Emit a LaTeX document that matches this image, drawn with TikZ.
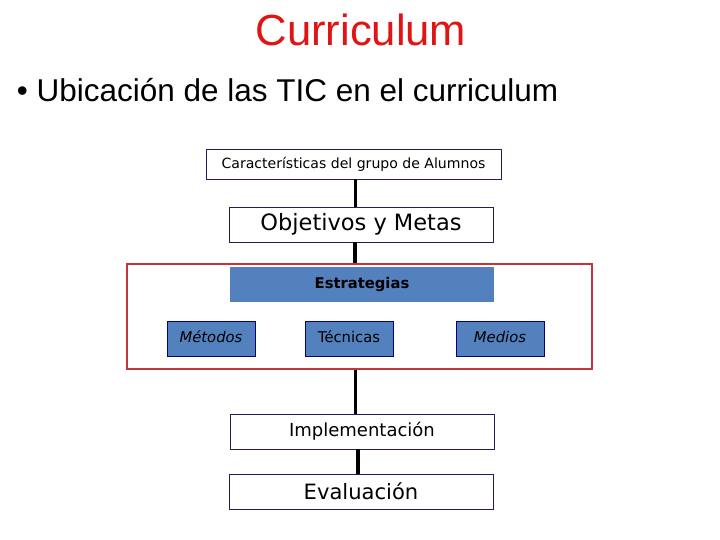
\documentclass[tikz,border=0pt]{standalone}
\usepackage{fontspec}
\setmainfont{Liberation Sans}
\newfontfamily\boxfont{DejaVu Sans}
\usetikzlibrary{positioning}
\definecolor{navyline}{RGB}{30,30,90}
\definecolor{stratblue}{RGB}{82,129,190}
\definecolor{framered}{RGB}{200,50,60}
\definecolor{titlered}{RGB}{225,20,20}
\begin{document}
\begin{tikzpicture}[
        base/.style={draw=navyline,line width=0.6pt,inner sep=0pt,font=\boxfont},
        plainbox/.style={base,minimum width=6.6cm,minimum height=0.875cm},
        stratbox/.style={fill=stratblue,inner sep=0pt,minimum width=6.6cm,minimum height=0.875cm,font=\boxfont\bfseries\fontsize{10.5}{12}\selectfont},
        toolbox/.style={base,draw=blue!50!black,fill=stratblue,minimum width=2.2cm,minimum height=0.875cm,text height=1.6ex,text depth=0.5ex,font=\boxfont\fontsize{10.5}{12}\selectfont},
        frame/.style={draw=framered,line width=0.8pt,minimum width=11.625cm,minimum height=2.625cm},
        link/.style={line width=2.6pt}]
        \useasboundingbox (0,0) rectangle (18,-13.5);
        % Title
        \node[text=titlered,font=\fontsize{31}{34}\selectfont] (title) at (9.025,-0.75) {Curriculum};
        \node[anchor=west,font=\fontsize{22.4}{26}\selectfont] (bullet) at (0.3,-2.25) {\textbullet\ Ubicación de las TIC en el curriculum};
        % Top boxes
        \node[base,minimum width=7.375cm,minimum height=0.75cm,font=\boxfont\fontsize{10}{12}\selectfont] (alumnos) at (8.8375,-4.1) {Características del grupo de Alumnos};
        \node[plainbox,font=\boxfont\fontsize{16}{18}\selectfont] (objetivos) at (9.025,-5.6125) {Objetivos y Metas};
        % Strategies frame
        \node[frame] (marco) at (8.9875,-7.9125) {};
        \node[stratbox] (estrategias) at (9.05,-7.1125) {Estrategias};
        \node[toolbox] (metodos) at (5.275,-8.4625) {\itshape Métodos};
        \node[toolbox] (tecnicas) at (8.725,-8.4625) {Técnicas};
        \node[toolbox] (medios) at (12.5,-8.4625) {\itshape Medios};
        % Bottom boxes
        \node[plainbox,font=\boxfont\fontsize{12.8}{15}\selectfont] (implementacion) at (9.05,-10.7875) {Implementación};
        \node[plainbox,font=\boxfont\fontsize{15}{17}\selectfont] (evaluacion) at (9.025,-12.2875) {Evaluación};
        % Links
        \draw[link] ([xshift=0.05cm]alumnos.south) -- ([xshift=0.05cm]alumnos.south |- objetivos.north);
        \draw[link] ([xshift=-0.15cm]objetivos.south) -- ([xshift=-0.15cm]objetivos.south |- marco.north);
        \draw[link] ([xshift=-0.1cm]marco.south) -- ([xshift=-0.1cm]marco.south |- implementacion.north);
        \draw[link] ([xshift=-0.1cm]implementacion.south) -- ([xshift=-0.1cm]implementacion.south |- evaluacion.north);
\end{tikzpicture}
\end{document}
